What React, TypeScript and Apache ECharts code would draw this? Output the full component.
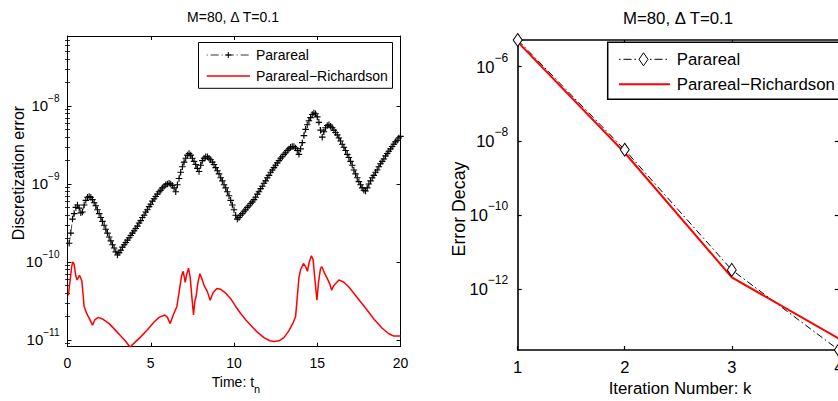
import React, { useEffect, useRef } from 'react';
import * as echarts from 'echarts';

const FONT = '"Liberation Sans", Arial, Helvetica, sans-serif';

// ---- Left panel: discretization error vs time (log10 of the error) ----
const pararealCurve: [number, number][] = [
  [0.1, -9.76], [0.2, -9.63], [0.3, -9.45], [0.4, -9.38], [0.5, -9.3], [0.6, -9.27], [0.7, -9.31], [0.8, -9.37],
  [0.9, -9.36], [1.0, -9.27], [1.1, -9.21], [1.2, -9.17], [1.3, -9.16], [1.4, -9.17], [1.5, -9.2], [1.6, -9.24],
  [1.7, -9.28], [1.8, -9.33], [1.9, -9.38], [2.0, -9.43], [2.1, -9.48], [2.2, -9.53], [2.3, -9.58], [2.4, -9.63],
  [2.5, -9.68], [2.6, -9.73], [2.7, -9.78], [2.8, -9.82], [2.9, -9.87], [3.0, -9.91],
  [3.1, -9.88], [3.2, -9.85], [3.3, -9.81], [3.4, -9.78], [3.5, -9.75], [3.6, -9.72], [3.7, -9.69], [3.8, -9.66],
  [3.9, -9.63], [4.0, -9.6], [4.1, -9.57], [4.2, -9.54], [4.3, -9.5], [4.4, -9.47],
  [4.5, -9.43], [4.6, -9.4], [4.7, -9.36], [4.8, -9.33], [4.9, -9.29], [5.0, -9.26], [5.1, -9.22], [5.2, -9.19],
  [5.3, -9.16], [5.4, -9.13], [5.5, -9.1], [5.6, -9.08], [5.7, -9.05], [5.8, -9.03], [5.9, -9.01], [6.0, -9.0],
  [6.1, -8.99], [6.2, -9.0], [6.3, -9.02], [6.4, -9.05], [6.5, -9.1], [6.6, -9.01], [6.7, -8.93], [6.8, -8.85],
  [6.9, -8.78], [7.0, -8.72], [7.1, -8.67], [7.2, -8.63], [7.3, -8.61], [7.4, -8.63], [7.5, -8.67], [7.6, -8.71],
  [7.7, -8.75], [7.8, -8.8], [7.9, -8.84], [8.0, -8.76], [8.1, -8.7], [8.2, -8.67], [8.3, -8.65], [8.4, -8.65],
  [8.5, -8.67], [8.6, -8.69], [8.7, -8.72], [8.8, -8.75], [8.9, -8.79], [9.0, -8.83], [9.1, -8.87], [9.2, -8.92],
  [9.3, -8.96], [9.4, -9.01], [9.5, -9.05], [9.6, -9.1], [9.7, -9.15], [9.8, -9.21],
  [9.9, -9.27], [10.0, -9.33], [10.1, -9.4], [10.2, -9.45], [10.3, -9.43], [10.4, -9.4], [10.5, -9.38], [10.6, -9.35],
  [10.7, -9.33], [10.8, -9.3], [10.9, -9.28], [11.0, -9.25],
  [11.1, -9.23], [11.2, -9.2], [11.3, -9.17], [11.4, -9.13], [11.5, -9.1], [11.6, -9.06], [11.7, -9.03], [11.8, -8.99],
  [11.9, -8.96], [12.0, -8.92], [12.1, -8.89], [12.2, -8.85], [12.3, -8.82], [12.4, -8.79], [12.5, -8.76], [12.6, -8.73],
  [12.7, -8.7], [12.8, -8.67], [12.9, -8.65], [13.0, -8.62], [13.1, -8.6], [13.2, -8.57], [13.3, -8.55], [13.4, -8.53],
  [13.5, -8.52], [13.6, -8.52], [13.7, -8.54], [13.8, -8.57],
  [13.9, -8.62], [14.0, -8.55], [14.1, -8.47], [14.2, -8.38], [14.3, -8.3], [14.4, -8.24], [14.5, -8.19], [14.6, -8.15],
  [14.7, -8.11], [14.8, -8.09], [14.9, -8.1], [15.0, -8.14], [15.1, -8.21], [15.2, -8.31], [15.3, -8.4], [15.4, -8.33],
  [15.5, -8.28], [15.6, -8.25], [15.7, -8.24], [15.8, -8.26], [15.9, -8.28], [16.0, -8.31], [16.1, -8.34], [16.2, -8.37],
  [16.3, -8.41], [16.4, -8.45], [16.5, -8.49], [16.6, -8.53], [16.7, -8.57], [16.8, -8.62], [16.9, -8.66], [17.0, -8.71],
  [17.1, -8.76], [17.2, -8.82], [17.3, -8.87], [17.4, -8.92], [17.5, -8.97], [17.6, -9.01], [17.7, -9.05], [17.8, -9.08],
  [17.9, -9.09], [18.0, -9.05], [18.1, -9.0], [18.2, -8.96], [18.3, -8.92], [18.4, -8.89], [18.5, -8.85], [18.6, -8.82],
  [18.7, -8.78], [18.8, -8.74], [18.9, -8.71], [19.0, -8.68], [19.1, -8.64], [19.2, -8.61], [19.3, -8.58], [19.4, -8.55],
  [19.5, -8.52], [19.6, -8.49], [19.7, -8.46], [19.8, -8.44], [19.9, -8.41], [20.0, -8.39],
];

const richardsonCurve: [number, number][] = [
  [0.05, -10.43], [0.15, -10.25], [0.25, -10.06], [0.32, -10.0], [0.4, -10.03], [0.5, -10.18], [0.58, -10.23],
  [0.72, -10.17], [0.86, -10.24], [1.0, -10.57], [1.15, -10.66], [1.3, -10.72], [1.5, -10.81], [1.65, -10.74],
  [1.85, -10.71], [2.1, -10.73], [2.5, -10.79], [2.9, -10.88], [3.2, -10.95], [3.5, -11.02], [3.75, -11.09],
  [4.0, -11.04], [4.4, -10.96], [4.8, -10.87], [5.2, -10.77], [5.5, -10.71], [5.85, -10.68], [6.0, -10.71],
  [6.17, -10.79], [6.35, -10.68], [6.57, -10.57], [6.75, -10.32], [6.85, -10.18], [6.95, -10.12], [7.07, -10.26],
  [7.17, -10.15], [7.27, -10.08], [7.37, -10.2], [7.47, -10.45], [7.57, -10.68], [7.65, -10.5], [7.72, -10.45],
  [7.82, -10.28], [7.95, -10.15], [8.08, -10.22], [8.2, -10.3], [8.4, -10.38], [8.57, -10.49], [8.75, -10.39],
  [8.97, -10.34], [9.2, -10.35], [9.5, -10.4], [9.8, -10.47], [10.1, -10.57], [10.4, -10.66], [10.7, -10.74],
  [11.0, -10.81], [11.4, -10.9], [11.8, -10.97], [12.15, -11.01], [12.4, -11.02], [12.7, -11.01], [13.0, -10.97],
  [13.3, -10.88], [13.55, -10.78], [13.7, -10.7], [13.8, -10.45], [13.9, -10.2], [14.0, -10.1], [14.17, -10.02],
  [14.3, -10.06], [14.41, -10.12], [14.52, -10.0], [14.65, -9.92], [14.75, -9.97], [14.85, -10.2], [14.98, -10.49],
  [15.08, -10.25], [15.2, -10.08], [15.28, -10.06], [15.45, -10.15], [15.6, -10.21], [15.75, -10.28], [15.86, -10.36],
  [16.0, -10.3], [16.3, -10.23], [16.6, -10.26], [16.9, -10.32], [17.3, -10.43], [17.9, -10.59], [18.4, -10.73],
  [18.9, -10.85], [19.3, -10.92], [19.6, -10.95], [20.0, -10.95],
];

// ---- Right panel: error decay vs iteration (log10 of the error) ----
const iterations = [1, 2, 3, 4];
const pararealDecay = [-5.28, -8.24, -11.48, -13.64];
const richardsonDecay = [-5.33, -8.32, -11.68, -13.33];

const leftYTicks = [-11, -10, -9, -8];
const rightYTicks = [-12, -10, -8, -6];
const LEFT_Y = [-11.086, -7.103];
const RIGHT_Y = [-13.64, -5.28];

const leftMinor: number[] = [];
for (let n = -12; n <= -8; n++) {
  for (let k = 2; k <= 9; k++) {
    const v = n + Math.log10(k);
    if (v > LEFT_Y[0] && v < LEFT_Y[1]) leftMinor.push(v);
  }
}

const expLabel = (v: number) => `{b|10}{s|${v < 0 ? '\u2212' : ''}${Math.abs(Math.round(v))}}`;

function buildOption(): any {
  const axisLine = (w: number) => ({ show: true, onZero: false, lineStyle: { color: '#000', width: w } });
  const tick = (len: number, w: number, custom?: number[]) => ({
    show: true, inside: true, length: len, lineStyle: { color: '#000', width: w },
    ...(custom ? { customValues: custom } : {}),
  });
  const hiddenLabel = { show: false };
  const leftRich = {
    b: { fontSize: 15, fontFamily: FONT, color: '#000', verticalAlign: 'middle' },
    s: { fontSize: 10, fontFamily: FONT, color: '#000', verticalAlign: 'middle', padding: [0, 0, 15, 0] },
  };
  const rightRich = {
    b: { fontSize: 16.5, fontFamily: FONT, color: '#000', verticalAlign: 'middle' },
    s: { fontSize: 12, fontFamily: FONT, color: '#000', verticalAlign: 'middle', padding: [0, 0, 18, 0] },
  };

  const plusLines = (cx: number, cy: number, r: number) => [
    { type: 'line', z: 101, shape: { x1: cx - r, y1: cy, x2: cx + r, y2: cy }, style: { stroke: '#000', lineWidth: 1 } },
    { type: 'line', z: 101, shape: { x1: cx, y1: cy - r, x2: cx, y2: cy + r }, style: { stroke: '#000', lineWidth: 1 } },
  ];

  return {
    animation: false,
    backgroundColor: '#fff',
    grid: [
      { left: 67.5, top: 36, width: 333, height: 310.7, show: false },
      { left: 517.7, top: 40, width: 321.1, height: 310, show: false },
    ],
    xAxis: [
      {
        type: 'value', gridIndex: 0, position: 'bottom', min: 0, max: 20, interval: 5,
        axisLine: axisLine(1), axisTick: tick(4, 1), splitLine: { show: false },
        axisLabel: { fontSize: 14, fontFamily: FONT, color: '#000', margin: 9 },
      },
      {
        type: 'value', gridIndex: 0, position: 'top', min: 0, max: 20, interval: 5,
        axisLine: axisLine(1), axisTick: tick(4, 1), splitLine: { show: false }, axisLabel: hiddenLabel,
      },
      {
        type: 'value', gridIndex: 1, position: 'bottom', min: 1, max: 4, interval: 1,
        axisLine: axisLine(1.6), axisTick: tick(4, 1.2), splitLine: { show: false },
        axisLabel: { fontSize: 16.5, fontFamily: FONT, color: '#000', margin: 8 },
      },
      {
        type: 'value', gridIndex: 1, position: 'top', min: 1, max: 4, interval: 1,
        axisLine: axisLine(1.6), axisTick: tick(4, 1.2), splitLine: { show: false }, axisLabel: hiddenLabel,
      },
    ],
    yAxis: [
      {
        type: 'value', gridIndex: 0, position: 'left', min: LEFT_Y[0], max: LEFT_Y[1],
        axisLine: axisLine(1), axisTick: tick(4, 1, leftYTicks), splitLine: { show: false },
        axisLabel: { customValues: leftYTicks, formatter: expLabel, margin: 8, rich: leftRich },
      },
      {
        type: 'value', gridIndex: 0, position: 'right', min: LEFT_Y[0], max: LEFT_Y[1],
        axisLine: axisLine(1), axisTick: tick(4, 1, leftYTicks), splitLine: { show: false }, axisLabel: hiddenLabel,
      },
      {
        type: 'value', gridIndex: 0, position: 'left', min: LEFT_Y[0], max: LEFT_Y[1],
        axisLine: { show: false }, axisTick: tick(2.5, 0.8, leftMinor), splitLine: { show: false }, axisLabel: hiddenLabel,
      },
      {
        type: 'value', gridIndex: 0, position: 'right', min: LEFT_Y[0], max: LEFT_Y[1],
        axisLine: { show: false }, axisTick: tick(2.5, 0.8, leftMinor), splitLine: { show: false }, axisLabel: hiddenLabel,
      },
      {
        type: 'value', gridIndex: 1, position: 'left', min: RIGHT_Y[0], max: RIGHT_Y[1],
        axisLine: axisLine(1.6), axisTick: tick(4, 1.2, rightYTicks), splitLine: { show: false },
        axisLabel: { customValues: rightYTicks, formatter: expLabel, margin: 9.5, rich: rightRich },
      },
      {
        type: 'value', gridIndex: 1, position: 'right', min: RIGHT_Y[0], max: RIGHT_Y[1],
        axisLine: axisLine(1.6), axisTick: tick(4, 1.2, rightYTicks), splitLine: { show: false }, axisLabel: hiddenLabel,
      },
    ],
    series: [
      {
        name: 'Parareal', type: 'line', xAxisIndex: 0, yAxisIndex: 0,
        data: pararealCurve,
        symbol: 'path://M0,4L8,4M4,0L4,8', symbolSize: 6.5,
        itemStyle: { color: 'rgba(0,0,0,0)', borderColor: '#000', borderWidth: 1.1 },
        lineStyle: { color: '#000', width: 0.7, type: [6, 3, 1, 3] },
      },
      {
        name: 'Parareal\u2212Richardson', type: 'line', xAxisIndex: 0, yAxisIndex: 0,
        data: richardsonCurve, symbol: 'none',
        lineStyle: { color: '#ff0000', width: 1.5 },
      },
      {
        name: 'Parareal ', type: 'line', xAxisIndex: 2, yAxisIndex: 4, clip: false,
        data: iterations.map((k, i) => [k, pararealDecay[i]]),
        symbol: 'diamond', symbolSize: [9, 13],
        itemStyle: { color: '#fff', borderColor: '#000', borderWidth: 1 },
        lineStyle: { color: '#000', width: 1, type: [7, 3, 1.5, 3] },
      },
      {
        name: 'Parareal\u2212Richardson ', type: 'line', xAxisIndex: 2, yAxisIndex: 4, clip: false,
        data: iterations.map((k, i) => [k, richardsonDecay[i]]), symbol: 'none',
        lineStyle: { color: '#ff0000', width: 2 },
      },
    ],
    graphic: [
      // titles
      { type: 'text', x: 233, y: 17, z: 100, style: { text: 'M=80, \u0394 T=0.1', fontSize: 14, fontFamily: FONT, fill: '#000', align: 'center', verticalAlign: 'middle' } },
      { type: 'text', x: 678, y: 18.5, z: 100, style: { text: 'M=80, \u0394 T=0.1', fontSize: 16.8, fontFamily: FONT, fill: '#000', align: 'center', verticalAlign: 'middle' } },
      // axis names
      { type: 'text', x: 18, y: 173, rotation: Math.PI / 2, z: 100, style: { text: 'Discretization error', fontSize: 16, fontFamily: FONT, fill: '#000', align: 'center', verticalAlign: 'middle' } },
      { type: 'text', x: 459, y: 209, rotation: Math.PI / 2, z: 100, style: { text: 'Error Decay', fontSize: 17.8, fontFamily: FONT, fill: '#000', align: 'center', verticalAlign: 'middle' } },
      {
        type: 'text', x: 236, y: 382, z: 100,
        style: {
          text: '{a|Time: t}{n|n}', align: 'center', verticalAlign: 'middle',
          rich: {
            a: { fontSize: 14, fontFamily: FONT, fill: '#000', verticalAlign: 'middle' },
            n: { fontSize: 11, fontFamily: FONT, fill: '#000', verticalAlign: 'middle', padding: [14, 0, 0, 0] },
          },
        },
      },
      { type: 'text', x: 680, y: 388, z: 100, style: { text: 'Iteration Number: k', fontSize: 16.8, fontFamily: FONT, fill: '#000', align: 'center', verticalAlign: 'middle' } },
      // left legend
      { type: 'rect', z: 100, shape: { x: 198.5, y: 42.5, width: 194, height: 45.8 }, style: { fill: '#fff', stroke: '#000', lineWidth: 1 } },
      { type: 'line', z: 101, shape: { x1: 206.7, y1: 55, x2: 250, y2: 55 }, style: { stroke: '#000', lineWidth: 0.8, lineDash: [1, 3, 8, 3] } },
      ...plusLines(228.3, 55, 3),
      { type: 'text', x: 256, y: 55, z: 101, style: { text: 'Parareal', fontSize: 14, fontFamily: FONT, fill: '#000', align: 'left', verticalAlign: 'middle' } },
      { type: 'line', z: 101, shape: { x1: 206.7, y1: 76, x2: 250, y2: 76 }, style: { stroke: '#ff0000', lineWidth: 1.5 } },
      { type: 'text', x: 256, y: 76, z: 101, style: { text: 'Parareal\u2212Richardson', fontSize: 14, fontFamily: FONT, fill: '#000', align: 'left', verticalAlign: 'middle' } },
      // right legend
      { type: 'rect', z: 100, shape: { x: 607.7, y: 42.3, width: 260, height: 57 }, style: { fill: '#fff', stroke: '#000', lineWidth: 1.5 } },
      { type: 'line', z: 101, shape: { x1: 619, y1: 59.3, x2: 670, y2: 59.3 }, style: { stroke: '#000', lineWidth: 1, lineDash: [1.5, 3, 8, 3] } },
      { type: 'polygon', z: 102, shape: { points: [[643.5, 52.8], [648, 59.3], [643.5, 65.8], [639, 59.3]] }, style: { fill: '#fff', stroke: '#000', lineWidth: 1 } },
      { type: 'text', x: 676.7, y: 59.3, z: 101, style: { text: 'Parareal', fontSize: 16.8, fontFamily: FONT, fill: '#000', align: 'left', verticalAlign: 'middle' } },
      { type: 'line', z: 101, shape: { x1: 619, y1: 84.3, x2: 670, y2: 84.3 }, style: { stroke: '#ff0000', lineWidth: 2 } },
      { type: 'text', x: 676.7, y: 84.3, z: 101, style: { text: 'Parareal\u2212Richardson', fontSize: 16.8, fontFamily: FONT, fill: '#000', align: 'left', verticalAlign: 'middle' } },
    ],
  };
}

export default function App() {
  const ref = useRef<HTMLDivElement>(null);
  useEffect(() => {
    if (!ref.current) return;
    const chart = echarts.init(ref.current, null, { renderer: 'svg' });
    chart.setOption(buildOption());
    return () => chart.dispose();
  }, []);
  return (
    <div style={{ position: 'fixed', left: 0, top: 0, width: 838, height: 401, overflow: 'hidden', background: '#fff' }}>
      <div ref={ref} style={{ width: 900, height: 401 }} />
    </div>
  );
}
